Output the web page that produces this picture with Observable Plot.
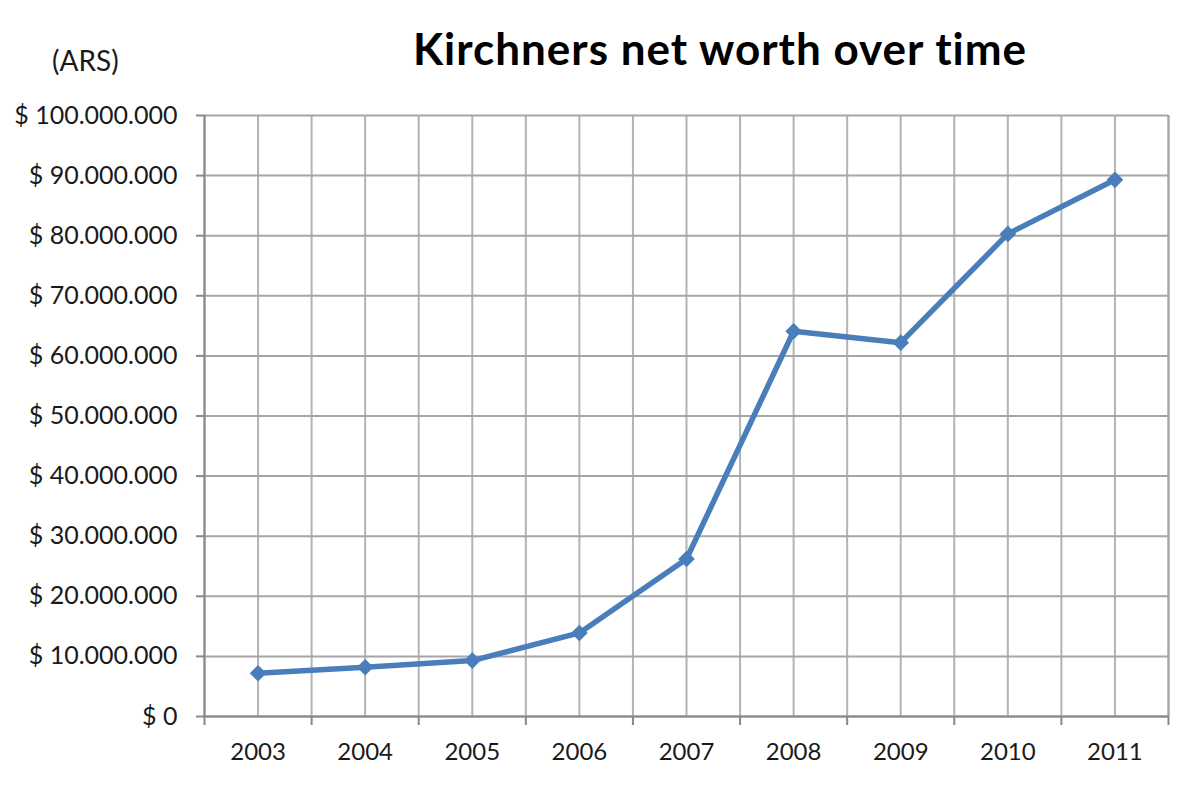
<!DOCTYPE html>
<html>
<head>
<meta charset="utf-8">
<script src="https://cdn.jsdelivr.net/npm/d3@7"></script>
<script src="https://cdn.jsdelivr.net/npm/@observablehq/plot@0.6"></script>
<style>
  html, body { margin: 0; padding: 0; background: #fff; }
  #wrap { position: relative; width: 1200px; height: 786px; font-family: Lato, "Open Sans", sans-serif; }
  #title { position: absolute; left: 0; width: 1200px; top: 18px; padding-left: 240px; box-sizing: border-box; text-align: center; font-weight: bold; font-size: 44px; letter-spacing: 1px; color: #000; line-height: 60px; }
  #unit { position: absolute; left: 52px; top: 42px; font-size: 28px; color: #1a1a1a; line-height: 36px; }
</style>
</head>
<body>
<div id="wrap">
  <div id="title">Kirchners net worth over time</div>
  <div id="unit">(ARS)</div>
  <div id="chart"></div>
</div>
<script>
const years = [2003, 2004, 2005, 2006, 2007, 2008, 2009, 2010, 2011];
const netWorth = [7200000, 8200000, 9300000, 13900000, 26200000, 64100000, 62200000, 80300000, 89300000];
const yTicks = [0, 10000000, 20000000, 30000000, 40000000, 50000000, 60000000, 70000000, 80000000, 90000000, 100000000];

const data = years.map((y, i) => ({year: y, value: netWorth[i]}));
const xMin = years[0] - 0.5, xMax = years[years.length - 1] + 0.5;
const boundaries = d3.range(xMin, xMax + 0.01, 1);
const halfGrid = d3.range(xMin, xMax + 0.01, 0.5);

const fmt = d3.formatLocale({decimal: ",", thousands: ".", grouping: [3], currency: ["$ ", ""]}).format("$,.0f");

const chart = Plot.plot({
  width: 1200,
  height: 786,
  marginTop: 115,
  marginBottom: 70,
  marginLeft: 204,
  marginRight: 32,
  style: {fontFamily: "Lato, 'Open Sans', sans-serif", fontSize: "24px", color: "#1a1a1a", background: "#fff"},
  x: {domain: [xMin, xMax]},
  y: {domain: [0, 100000000]},
  marks: [
    Plot.ruleX(halfGrid, {stroke: "#b3b3b3", strokeWidth: 2, strokeOpacity: 1}),
    Plot.ruleY(yTicks, {stroke: "#a6a6a6", strokeWidth: 2, strokeOpacity: 1}),
    Plot.ruleX([xMin], {stroke: "#888", strokeWidth: 2}),
    Plot.ruleX([xMax], {stroke: "#a6a6a6", strokeWidth: 2}),
    Plot.ruleY([0], {stroke: "#888", strokeWidth: 2}),
    Plot.axisY(yTicks, {tickSize: 8, tickPadding: 19, tickFormat: fmt, fontSize: 25, stroke: "#888", strokeWidth: 2, strokeOpacity: 1, label: null}),
    Plot.axisX(boundaries, {tickSize: 9, tickFormat: () => "", stroke: "#888", strokeWidth: 2, strokeOpacity: 1, label: null}),
    Plot.axisX(years, {tickSize: 0, tickPadding: 26, tickFormat: d => String(d), label: null}),
    Plot.line(data, {x: "year", y: "value", stroke: "#4a7ebb", strokeWidth: 5.5, strokeLinejoin: "round"}),
    Plot.dot(data, {x: "year", y: "value", symbol: "diamond2", r: 7.5, fill: "#4a7ebb", stroke: "none"})
  ]
});
document.getElementById("chart").appendChild(chart);
</script>
</body>
</html>
